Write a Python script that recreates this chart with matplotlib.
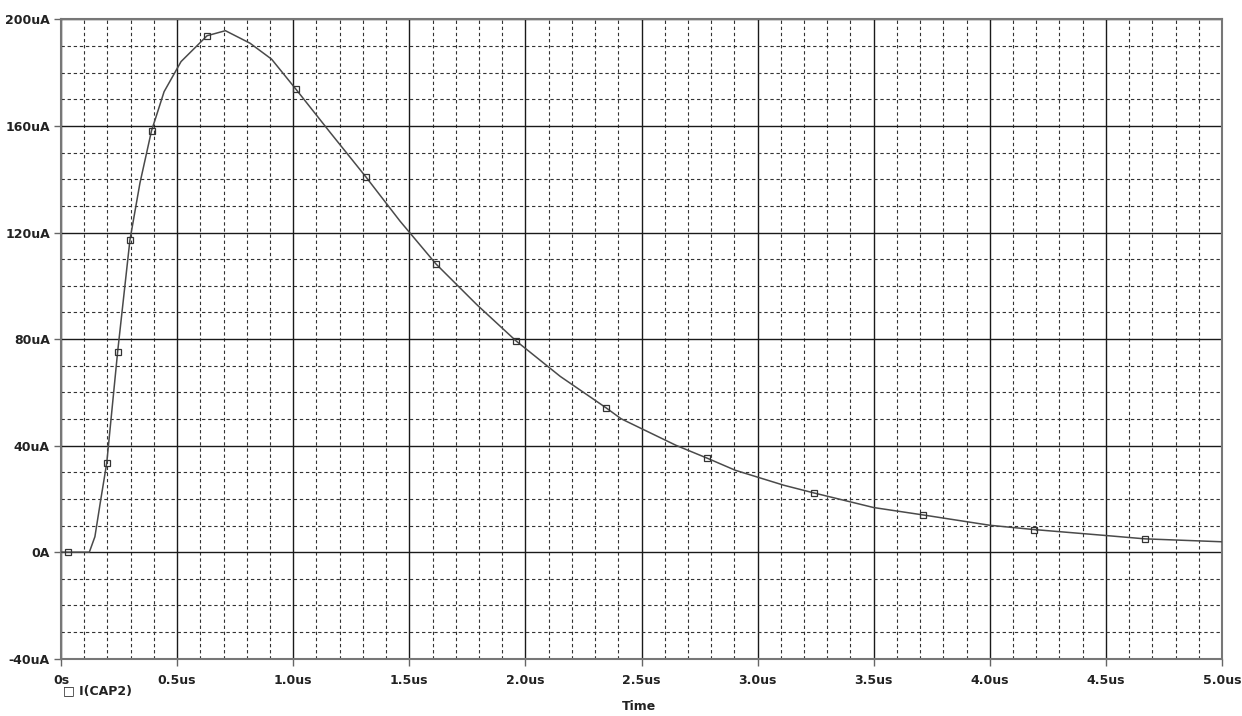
import matplotlib
matplotlib.use("Agg")
import matplotlib.pyplot as plt
from matplotlib.ticker import MultipleLocator

# Trace data: time (us), current (uA)
time_us = [0.0, 0.10, 0.122, 0.146, 0.171, 0.197, 0.244, 0.297, 0.34, 0.390,
           0.405, 0.444, 0.517, 0.599, 0.629, 0.708, 0.814, 0.907, 1.012, 1.16,
           1.313, 1.46, 1.615, 1.79, 1.96, 2.15, 2.349, 2.412, 2.649, 2.784,
           2.904, 3.114, 3.242, 3.5, 3.711, 4.0, 4.189, 4.5, 4.668, 5.0]
current_uA = [0.0, 0.0, 0.0, 5.8, 19.6, 33.5, 75.3, 117.3, 138.6, 158.3,
              162.3, 172.9, 184.2, 191.3, 193.9, 195.8, 191.1, 185.1, 173.8, 157.5,
              140.9, 124.3, 108.2, 93.0, 79.3, 66.0, 54.1, 50.1, 40.1, 35.25,
              30.75, 25.1, 22.25, 16.75, 14.0, 10.1, 8.5, 6.25, 5.0, 3.9]

# Marker positions along the trace
marker_t = [0.03, 0.197, 0.244, 0.297, 0.390, 0.629, 1.012, 1.313, 1.615, 1.96,
            2.349, 2.784, 3.242, 3.711, 4.189, 4.668]
marker_i = [0.0, 33.5, 75.3, 117.3, 158.3, 193.9, 173.8, 140.9, 108.2, 79.3,
            54.1, 35.25, 22.25, 14.0, 8.5, 5.0]

x_ticks = [0.0, 0.5, 1.0, 1.5, 2.0, 2.5, 3.0, 3.5, 4.0, 4.5, 5.0]
x_labels = ["0s", "0.5us", "1.0us", "1.5us", "2.0us", "2.5us", "3.0us",
            "3.5us", "4.0us", "4.5us", "5.0us"]
y_ticks = [-40, 0, 40, 80, 120, 160, 200]
y_labels = ["-40uA", "0A", "40uA", "80uA", "120uA", "160uA", "200uA"]

trace_name = "I(CAP2)"
x_title = "Time"

fig = plt.figure(figsize=(12.42, 7.16), dpi=100)
ax = fig.add_axes([61 / 1242, 1 - 658.7 / 716, (1222 - 61) / 1242, (658.7 - 19.5) / 716])

font = {"family": "DejaVu Sans", "weight": "bold", "size": 9}

ax.set_xlim(0, 5.0)
ax.set_ylim(-40, 200)

# grid: minor dashed, major solid
ax.xaxis.set_minor_locator(MultipleLocator(0.1))
ax.yaxis.set_minor_locator(MultipleLocator(10))
ax.grid(which="minor", color="#333333", linestyle=(0, (3, 2.5)), linewidth=0.8)
ax.grid(which="major", color="#1a1a1a", linestyle="-", linewidth=1.0)
ax.set_axisbelow(True)

ax.set_xticks(x_ticks)
ax.set_xticklabels(x_labels, fontdict=font, color="#222222")
ax.set_yticks(y_ticks)
ax.set_yticklabels(y_labels, fontdict=font, color="#222222")
ax.tick_params(which="major", direction="out", length=5, width=1, color="#666666")
ax.tick_params(axis="y", pad=3)
ax.tick_params(axis="x", pad=6)
ax.tick_params(which="minor", length=0)

for s in ax.spines.values():
    s.set_color("#777777")
    s.set_linewidth(1.5)

ax.plot(time_us, current_uA, color="#4a4a4a", linewidth=1.1, zorder=3)
ax.plot(marker_t, marker_i, linestyle="none", marker="s", markersize=4.5,
        markerfacecolor="none", markeredgecolor="#333333", markeredgewidth=0.9, zorder=4)

fig.text(63 / 1242, 1 - 691 / 716, "\u25a1 " + trace_name, fontdict=font,
         color="#222222", va="center", ha="left")
fig.text(639 / 1242, 1 - 706 / 716, x_title, fontdict=font, color="#222222",
         va="center", ha="center")

fig.savefig("out.png", dpi=100, facecolor="white")
